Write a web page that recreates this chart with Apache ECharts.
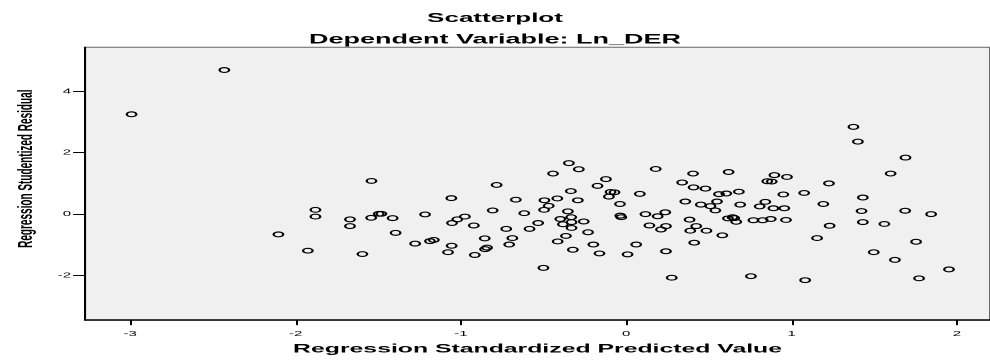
<!DOCTYPE html>
<html>
<head>
<meta charset="utf-8">
<script src="https://cdn.jsdelivr.net/npm/echarts@6/dist/echarts.min.js"></script>
<style>
  html, body { margin: 0; padding: 0; background: #fff; overflow: hidden; }
  #wrap { width: 990px; height: 360px; overflow: hidden; }
  #c { width: 495px; height: 360px; transform: scaleX(2); transform-origin: 0 0; }
</style>
</head>
<body>
<div id="wrap"><div id="c"></div></div>
<script>
// ---- Data ----
const titleMain = 'Scatterplot';
const titleSub = 'Dependent Variable: Ln_DER';
const xAxisName = 'Regression Standardized Predicted Value';
const yAxisName = 'Regression Studentized Residual';

const xTicks = [-3, -2, -1, 0, 1, 2];
const yTicks = [-2, 0, 2, 4];

const predicted = [
  -2.992, -2.431, -2.104, -1.926, -1.880, -1.880, -1.671, -1.671, -1.596, -1.541,
  -1.543, -1.497, -1.481, -1.413, -1.395, -1.277, -1.217, -1.187, -1.164, -1.058,
  -1.054, -1.022, -0.976, -1.056, -1.078, -0.922, -0.916, -0.856, -0.854, -0.842,
  -0.808, -0.784, -0.726, -0.689, -0.708, -0.668, -0.617, -0.585, -0.533, -0.501,
  -0.495, -0.497, -0.469, -0.443, -0.417, -0.415, -0.399, -0.383, -0.365, -0.353,
  -0.347, -0.335, -0.333, -0.331, -0.331, -0.323, -0.287, -0.293, -0.257, -0.231,
  -0.199, -0.174, -0.162, -0.123, -0.105, -0.095, -0.071, -0.038, -0.036, -0.030,
   0.008,  0.060,  0.082,  0.116,  0.140,  0.178,  0.190,  0.236,  0.240,  0.210,
   0.240,  0.275,  0.338,  0.357,  0.383,  0.387,  0.404,  0.407,  0.411,  0.423,
   0.451,  0.479,  0.485,  0.509,  0.539,  0.549,  0.561,  0.605,  0.581,  0.619,
   0.615,  0.643,  0.653,  0.665,  0.681,  0.689,  0.754,  0.769,  0.807,  0.825,
   0.841,  0.853,  0.880,  0.874,  0.890,  0.896,  0.950,  0.956,  0.966,  0.972,
   1.076,  1.082,  1.154,  1.192,  1.226,  1.230,  1.374,  1.401,  1.423,  1.431,
   1.431,  1.497,  1.561,  1.599,  1.625,  1.689,  1.687,  1.753,  1.771,  1.844,
   1.952
];
const residual = [
   3.25,  4.69, -0.66, -1.19,  0.14, -0.08, -0.17, -0.39, -1.30,  1.08,
  -0.12,  0.01,  0.01, -0.13, -0.61, -0.96, -0.01, -0.88, -0.84,  0.52,
  -0.29, -0.17, -0.08, -1.03, -1.24, -0.37, -1.33, -0.79, -1.14, -1.09,
   0.12,  0.95, -0.48, -0.78, -0.99,  0.47,  0.03, -0.48, -0.29, -1.75,
   0.45,  0.14,  0.27,  1.32,  0.51, -0.89, -0.16, -0.33, -0.71,  0.09,
   1.66,  0.75, -0.10, -0.26, -0.45, -1.16,  1.46,  0.45, -0.24, -0.59,
  -0.99,  0.92, -1.28,  1.14,  0.57,  0.72,  0.71,  0.33, -0.05, -0.10,
  -1.31, -0.99,  0.66,  0.00, -0.37,  1.47, -0.07,  0.06, -0.39, -0.50,
  -1.21, -2.07,  1.03,  0.41, -0.18, -0.54,  1.32,  0.87, -0.93, -0.39,
   0.31,  0.83, -0.54,  0.26,  0.12,  0.41,  0.65,  0.67, -0.69,  1.37,
  -0.14, -0.10, -0.13, -0.25,  0.73,  0.31, -2.02, -0.20,  0.25, -0.20,
   0.40,  1.07,  1.06, -0.16,  0.19,  1.27,  0.64,  0.19, -0.19,  1.21,
   0.69, -2.15, -0.78,  0.33,  1.00, -0.38,  2.84,  2.36,  0.10,  0.54,
  -0.26, -1.24, -0.32,  1.32, -1.49,  1.84,  0.11, -0.90, -2.09,  0.00,
  -1.80
];

const points = predicted.map((x, i) => [x, residual[i]]);

const FONT = "'Liberation Sans', Arial, Helvetica, sans-serif";

const chart = echarts.init(document.getElementById('c'), null, { renderer: 'canvas', devicePixelRatio: 2 });
chart.setOption({
  animation: false,
  backgroundColor: '#ffffff',
  title: [
    { text: titleMain, left: 'center', top: 7, z: 20,
      textStyle: { fontFamily: FONT, fontSize: 13, fontWeight: 'bold', color: '#000' } },
    { text: titleSub, left: 'center', top: 28, z: 20,
      textStyle: { fontFamily: FONT, fontSize: 13.5, fontWeight: 'bold', color: '#000' } }
  ],
  grid: {
    left: 38.3, top: 47.3, width: 457, height: 278.4,
    show: true, backgroundColor: '#f0f0f0', borderColor: '#666', borderWidth: 1
  },
  xAxis: {
    type: 'value', min: -3.273, max: 2.2,
    name: xAxisName, nameLocation: 'middle', nameGap: 22,
    nameTextStyle: { fontFamily: FONT, fontSize: 12.4, fontWeight: 'bold', color: '#000' },
    axisLine: { show: true, onZero: false, lineStyle: { color: '#000', width: 1.5 } },
    axisTick: { show: true, length: 5, customValues: xTicks, lineStyle: { color: '#000', width: 1 } },
    axisLabel: { show: true, margin: 10, customValues: xTicks, fontFamily: FONT, fontSize: 7.5, color: '#000' },
    splitLine: { show: false }
  },
  yAxis: {
    type: 'value', min: -3.45, max: 5.43,
    name: yAxisName, nameLocation: 'middle', nameGap: 21,
    nameTextStyle: { fontFamily: FONT, fontSize: 10, fontWeight: 'bold', color: '#000', padding: [0, 0, 0, 30] },
    axisLine: { show: true, onZero: false, lineStyle: { color: '#000', width: 1 } },
    axisTick: { show: true, length: 6, customValues: yTicks, lineStyle: { color: '#000', width: 1 } },
    axisLabel: { show: true, margin: 7, customValues: yTicks, fontFamily: FONT, fontSize: 7.5, color: '#000' },
    splitLine: { show: false }
  },
  series: [{
    type: 'scatter',
    data: points,
    symbol: 'circle',
    symbolSize: 4.8,
    itemStyle: { color: 'rgba(0,0,0,0)', borderColor: '#000', borderWidth: 1.15, opacity: 1 },
    emphasis: { disabled: true },
    silent: true
  }]
});
</script>
</body>
</html>
